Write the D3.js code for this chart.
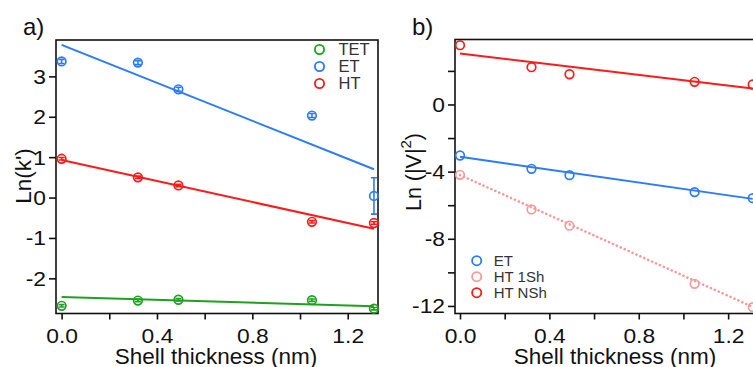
<!DOCTYPE html>
<html>
<head>
<meta charset="utf-8">
<script src="https://cdn.jsdelivr.net/npm/d3@7"></script>
<style>
  html, body { margin: 0; padding: 0; background: #fff; }
  svg { display: block; font-family: "Liberation Sans", Arial, sans-serif; }
</style>
</head>
<body>
<svg id="chart" width="753" height="367"></svg>
<script>
// Shell thicknesses (nm) shared by both panels
const thickness = [0, 0.32, 0.49, 1.05, 1.31];

// Panel a: Ln(k') per transfer process
const aSeries = ["TET", "ET", "HT"];
const aTET = [-2.68, -2.55, -2.53, -2.54, -2.75];
const aET  = [3.37, 3.34, 2.68, 2.03, 0.04];
const aHT  = [0.96, 0.50, 0.30, -0.60, -0.63];
const aTETerr = [0.03, 0.03, 0.03, 0.03, 0.03];
const aETerr  = [0.05, 0.05, 0.05, 0.05, 0.45];
const aHTerr  = [0.03, 0.03, 0.03, 0.03, 0.03];
// linear fits: [intercept, slope]
const aTETfit = [-2.46, -0.175];
const aETfit  = [3.78, -2.35];
const aHTfit  = [0.93, -1.30];

// Panel b: Ln(|V|^2)
const bSeries = ["ET", "HT 1Sh", "HT NSh"];
const bET   = [-3.04, -3.83, -4.21, -5.22, -5.58];
const bHT1  = [-4.19, -6.25, -7.22, -10.68, -12.07];
const bHTN  = [3.53, 2.22, 1.80, 1.35, 1.19];
const bETfit  = [-3.12, -1.91];
const bHT1fit = [-4.20, -6.00];
const bHTNfit = [3.03, -1.59];

const xTicks = [0, 0.2, 0.4, 0.6, 0.8, 1.0, 1.2];
const xTickLabels = ["0.0", "", "0.4", "", "0.8", "", "1.2"];
const aYTicks = [-2, -1, 0, 1, 2, 3];
const bYTicks = [-12, -10, -8, -6, -4, -2, 0, 2];
const bYTickLabels = ["-12", "", "-8", "", "-4", "", "0", ""];

const green = "#1ea21e", blue = "#2a7bff", red = "#ff1a1a", pink = "#f59a9a";
const tickFont = 19.5, stretch = 1.17;

const svg = d3.select("#chart");

function panel(opts) {
  const g = svg.append("g");
  const x = d3.scaleLinear().domain(opts.xDomain).range(opts.xRange);
  const y = d3.scaleLinear().domain(opts.yDomain).range(opts.yRange);
  const [x0, x1] = opts.xRange, [y0, y1] = opts.yRange;

  // frame
  g.append("rect")
    .attr("x", x0).attr("y", y1).attr("width", x1 - x0).attr("height", y0 - y1)
    .attr("fill", "none").attr("stroke", "#111").attr("stroke-width", 1.6);

  // bottom axis
  const xa = g.append("g").attr("transform", `translate(0,${y0})`)
    .call(d3.axisBottom(x).tickValues(xTicks).tickSize(6).tickPadding(10)
      .tickFormat((d, i) => xTickLabels[i]));
  xa.select(".domain").remove();
  xa.selectAll("line").attr("stroke", "#111").attr("stroke-width", 1.6);
  xa.selectAll(".tick text").attr("font-size", tickFont).attr("fill", "#111")
    .attr("transform", `scale(${stretch},1)`);

  // left axis
  const ya = g.append("g").attr("transform", `translate(${x0},0)`)
    .call(d3.axisLeft(y).tickValues(opts.yTicks).tickSize(7).tickPadding(3)
      .tickFormat((d, i) => opts.yTickLabels[i]));
  ya.select(".domain").remove();
  ya.selectAll("line").attr("stroke", "#111").attr("stroke-width", 1.6);
  ya.selectAll(".tick text").attr("font-size", tickFont).attr("fill", "#111")
    .attr("dy", "0.36em")
    .each(function () {
      const t = d3.select(this);
      t.attr("x", +t.attr("x") / stretch).attr("transform", `scale(${stretch},1)`);
    });

  // plot content clipped to the frame
  const clipId = "clip" + opts.id;
  svg.append("clipPath").attr("id", clipId).append("rect")
    .attr("x", x0 - 6).attr("y", y1 - 6).attr("width", x1 - x0 + 12).attr("height", y0 - y1 + 12);
  const plot = g.append("g").attr("clip-path", `url(#${clipId})`);

  opts.series.forEach(s => {
    const line = d3.line().x(d => x(d)).y(d => y(s.fit[0] + s.fit[1] * d));
    plot.append("path").datum([0, thickness[thickness.length - 1]])
      .attr("d", line).attr("fill", "none").attr("stroke", s.color)
      .attr("stroke-width", s.dotted ? 2.6 : 2)
      .attr("stroke-dasharray", s.dotted ? "0.1,4.2" : null)
      .attr("stroke-linecap", s.dotted ? "round" : "butt");
    const pts = thickness.map((t, i) => ({ t, v: s.values[i], e: s.err ? s.err[i] : 0 }));
    if (s.err) {
      const eb = plot.append("g").attr("stroke", s.color).attr("stroke-width", 1.6);
      pts.forEach(p => {
        eb.append("line").attr("x1", x(p.t)).attr("x2", x(p.t))
          .attr("y1", y(p.v - p.e)).attr("y2", y(p.v + p.e));
        [p.v - p.e, p.v + p.e].forEach(v => eb.append("line")
          .attr("x1", x(p.t) - 3).attr("x2", x(p.t) + 3)
          .attr("y1", y(v)).attr("y2", y(v)));
      });
    }
    plot.append("g").selectAll("circle").data(pts).join("circle")
      .attr("cx", d => x(d.t)).attr("cy", d => y(d.v)).attr("r", 4.3)
      .attr("fill", "none").attr("stroke", s.color).attr("stroke-width", 1.7);
  });

  // legend
  const lg = g.append("g");
  opts.series.forEach((s, i) => {
    const [lx, ly] = [opts.legend.x, opts.legend.y + i * opts.legend.step];
    lg.append("circle").attr("cx", lx).attr("cy", ly).attr("r", 4.6)
      .attr("fill", "none").attr("stroke", s.color).attr("stroke-width", 1.8);
    lg.append("text").attr("x", lx + opts.legend.dx).attr("y", ly).attr("dy", "0.36em")
      .attr("font-size", opts.legend.size).attr("fill", "#333").text(s.name);
  });

  return { g, x, y };
}

panel({
  id: "a",
  xDomain: [-0.0235, 1.327], xRange: [56, 378],
  yDomain: [-2.87, 3.90], yRange: [313.5, 40],
  yTicks: aYTicks, yTickLabels: aYTicks.map(String),
  series: [
    { name: aSeries[0], values: aTET, err: aTETerr, fit: aTETfit, color: green },
    { name: aSeries[1], values: aET, err: aETerr, fit: aETfit, color: blue },
    { name: aSeries[2], values: aHT, err: aHTerr, fit: aHTfit, color: red }
  ],
  legend: { x: 319.5, y: 49.5, step: 17, dx: 19, size: 16.5 }
});

panel({
  id: "b",
  xDomain: [-0.0224, 1.327], xRange: [455, 756.5],
  yDomain: [-12.45, 3.87], yRange: [313.5, 39.5],
  yTicks: bYTicks, yTickLabels: bYTickLabels,
  series: [
    { name: bSeries[0], values: bET, fit: bETfit, color: blue },
    { name: bSeries[1], values: bHT1, fit: bHT1fit, color: pink, dotted: true },
    { name: bSeries[2], values: bHTN, fit: bHTNfit, color: red }
  ],
  legend: { x: 476.7, y: 260.7, step: 16, dx: 17, size: 15 }
});

// axis titles
svg.append("text").attr("x", 216).attr("y", 363.5).attr("text-anchor", "middle")
  .attr("font-size", 22.5).attr("fill", "#111").text("Shell thickness (nm)");
svg.append("text").attr("x", 615).attr("y", 363.5).attr("text-anchor", "middle")
  .attr("font-size", 22.5).attr("fill", "#111").text("Shell thickness (nm)");

svg.append("text").attr("transform", "translate(31,176) rotate(-90)")
  .attr("text-anchor", "middle").attr("font-size", 22.5).attr("fill", "#111").text("Ln(k')");

const yb = svg.append("text").attr("transform", "translate(421,172) rotate(-90)")
  .attr("text-anchor", "middle").attr("font-size", 21.5).attr("fill", "#111");
yb.append("tspan").text("Ln (|V|");
yb.append("tspan").attr("font-size", 15).attr("dy", -10).text("2");
yb.append("tspan").attr("dy", 10).text(")");

// panel letters
svg.append("text").attr("x", 23).attr("y", 35).attr("font-size", 24).attr("fill", "#111").text("a)");
svg.append("text").attr("x", 412).attr("y", 35).attr("font-size", 24).attr("fill", "#111").text("b)");
</script>
</body>
</html>
